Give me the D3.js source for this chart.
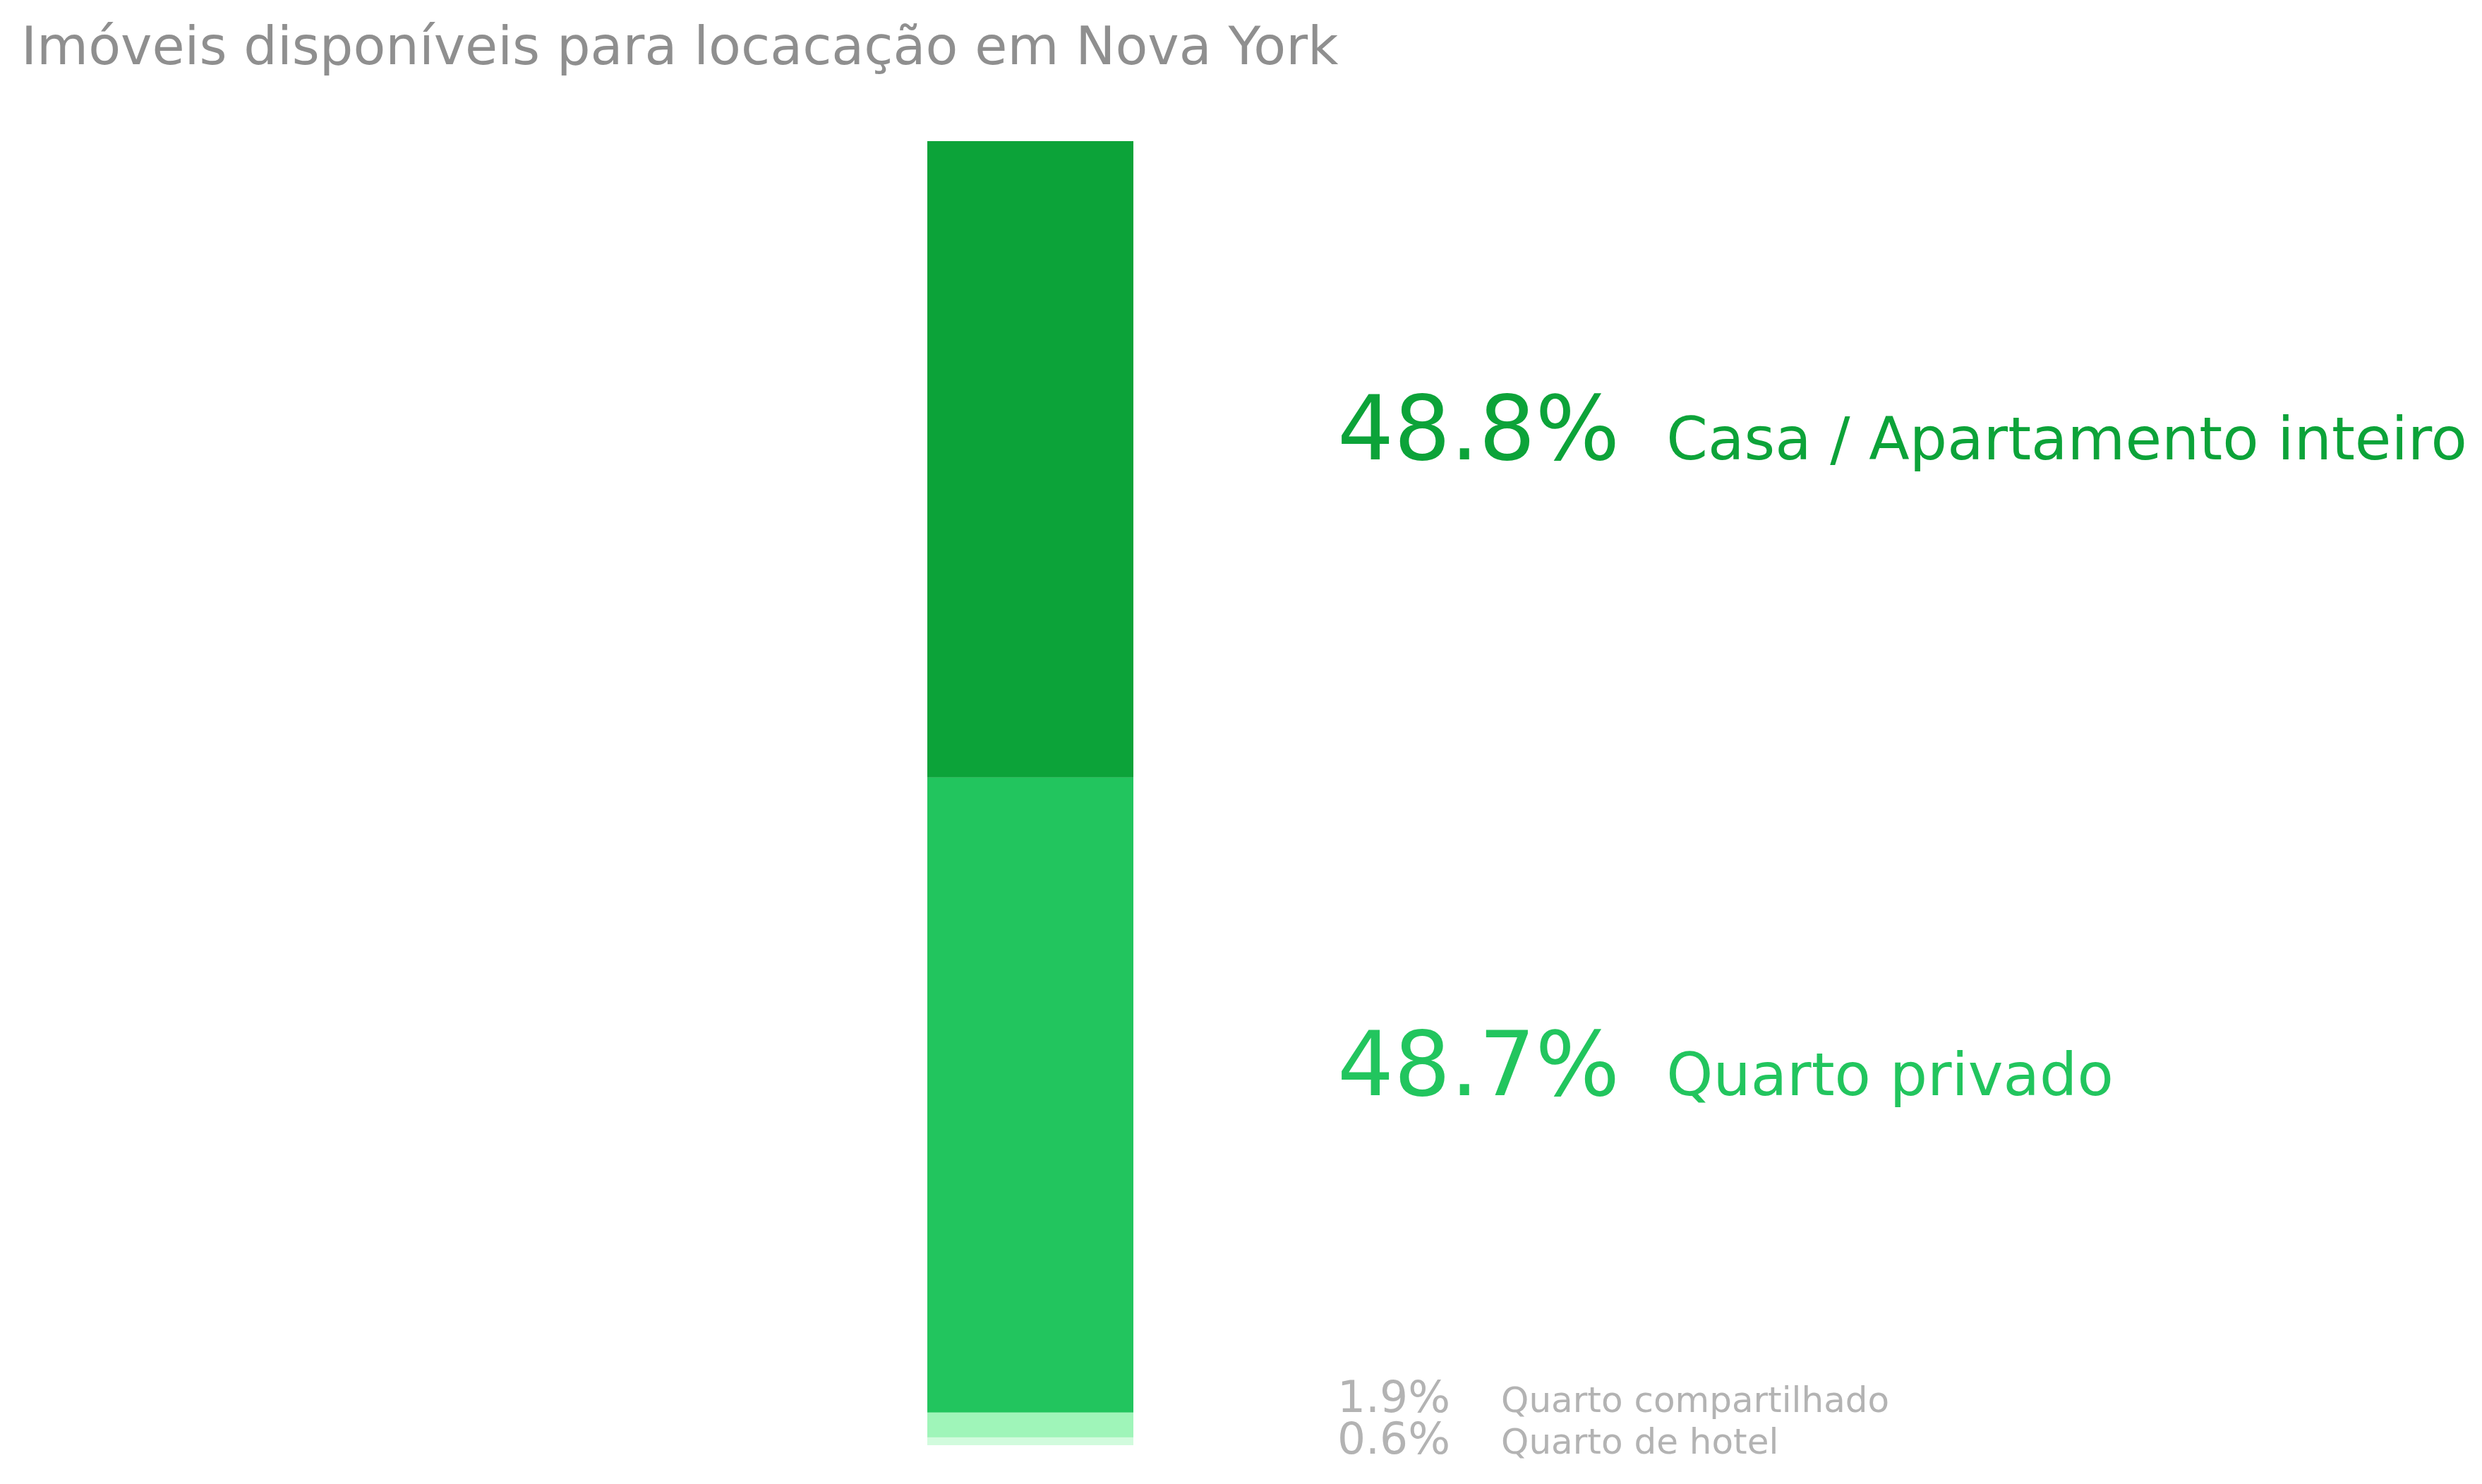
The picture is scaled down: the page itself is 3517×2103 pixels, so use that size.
<!DOCTYPE html>
<html>
<head>
<meta charset="utf-8">
<script src="https://cdn.jsdelivr.net/npm/d3@7"></script>
<style>
  body { margin: 0; background: #fff; }
  text { font-family: "DejaVu Sans", sans-serif; }
</style>
</head>
<body>
<script>
// data
var categories = ["Casa / Apartamento inteiro", "Quarto privado", "Quarto compartilhado", "Quarto de hotel"];
var shares = [48.8, 48.7, 1.9, 0.6];
var barColors = ["#0ca339", "#22c55e", "#9ff5b9", "#d1fbdd"];
var labelColors = ["#0ca339", "#22c55e", "#b3b3b3", "#b3b3b3"];
var title = "Imóveis disponíveis para locacação em Nova York";

var W = 3517, H = 2103;

var svg = d3.select("body").append("svg")
    .attr("width", W)
    .attr("height", H);

svg.append("text")
    .attr("x", 30)
    .attr("y", 91)
    .attr("font-size", 75)
    .attr("fill", "#8f8f8f")
    .text(title);

// scales
var y = d3.scaleLinear().domain([0, 100]).range([200, 2048]);
var x = d3.scaleBand().domain(["Nova York"]).range([1314, 1606]);

// cumulative start of each piece
var starts = [];
var acc = 0;
shares.forEach(function(v){ starts.push(acc); acc += v; });

var rows = shares.map(function(v, i){
    return { name: categories[i], value: v, start: starts[i], i: i };
});

svg.selectAll("rect.seg").data(rows).enter().append("rect")
    .attr("class", "seg")
    .attr("x", x("Nova York"))
    .attr("width", x.bandwidth())
    .attr("y", function(d){ return y(d.start); })
    .attr("height", function(d){ return y(d.start + d.value) - y(d.start); })
    .attr("fill", function(d){ return barColors[d.i]; });

// label positions: big ones at piece centre, small ones spread apart
var big = rows.filter(function(d){ return d.value >= 10; });
var small = rows.filter(function(d){ return d.value < 10; });
big.forEach(function(d){ d.ly = y(d.start + d.value / 2); d.big = true; });
var gapSmall = 59;
var mid = d3.mean(small, function(d){ return y(d.start + d.value / 2); });
small.forEach(function(d, k){
    d.ly = mid + (k - (small.length - 1) / 2) * gapSmall;
    d.big = false;
});

var fmt = d3.format(".1f");
var pctX = 1895;

var g = svg.selectAll("g.lab").data(rows).enter().append("g").attr("class", "lab");

g.append("text")
    .attr("class", "pct")
    .attr("x", pctX)
    .attr("y", function(d){ return d.ly; })
    .attr("font-size", function(d){ return d.big ? 126 : 63; })
    .attr("fill", function(d){ return labelColors[d.i]; })
    .text(function(d){ return fmt(d.value) + "%"; });

g.append("text")
    .attr("class", "name")
    .attr("x", function(d){
        var w = this.parentNode.querySelector("text.pct").getComputedTextLength();
        return pctX + w + (d.big ? 66 : 72);
    })
    .attr("y", function(d){ return d.ly; })
    .attr("font-size", function(d){ return d.big ? 84 : 50; })
    .attr("fill", function(d){ return labelColors[d.i]; })
    .text(function(d){ return d.name; });
</script>
</body>
</html>
